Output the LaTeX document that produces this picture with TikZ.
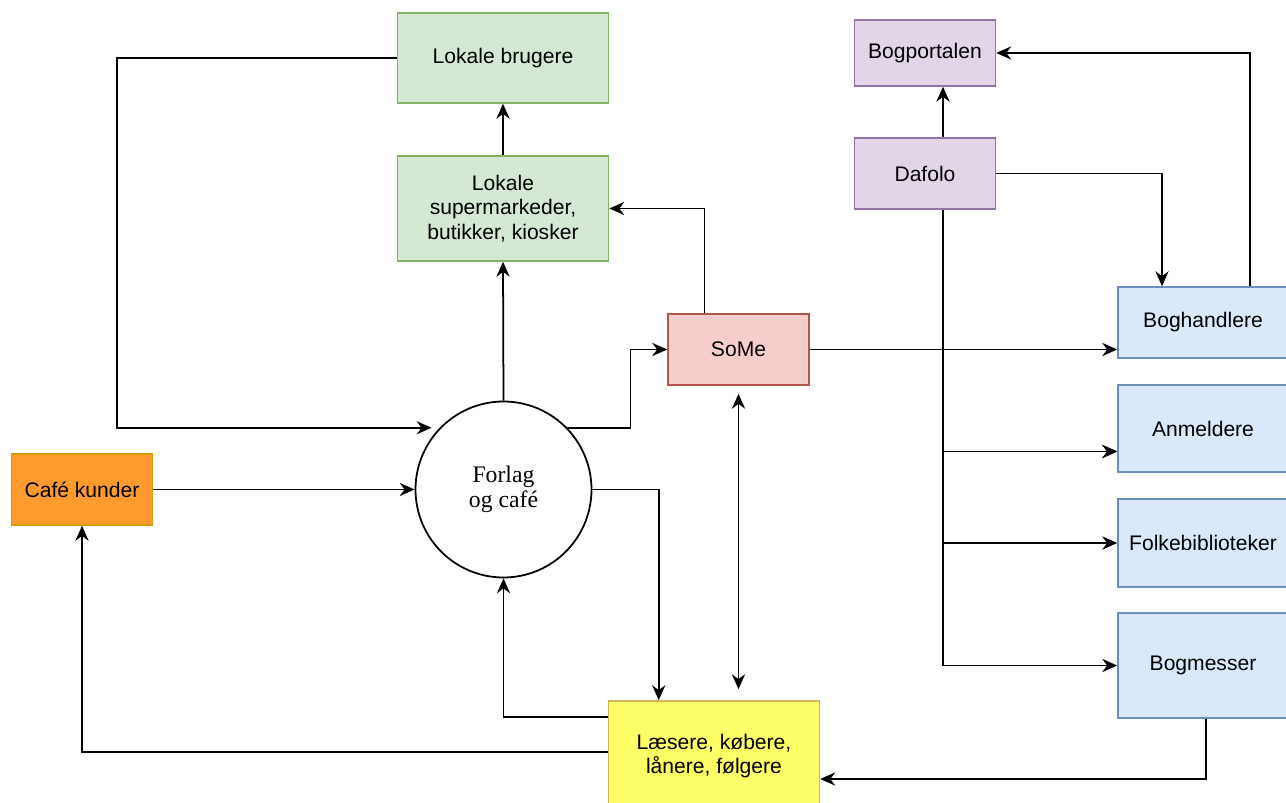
\documentclass[tikz,border=0pt]{standalone}
\usepackage{fontspec}
\setmainfont{Liberation Sans}
\newfontfamily\serifface{Liberation Serif}
\usetikzlibrary{positioning,arrows.meta,calc}
\definecolor{grnlt}{HTML}{D5E8D4}
\definecolor{grndk}{HTML}{82B366}
\definecolor{purlt}{HTML}{E1D5E7}
\definecolor{purdk}{HTML}{9673A6}
\definecolor{blult}{HTML}{DAE8FC}
\definecolor{bludk}{HTML}{6C8EBF}
\definecolor{redlt}{HTML}{F8CECC}
\definecolor{reddk}{HTML}{B85450}
\definecolor{orglt}{HTML}{FF9A2E}
\definecolor{orgdk}{HTML}{D79B00}
\definecolor{yellt}{HTML}{FFFF66}
\definecolor{yeldk}{HTML}{D6B656}
\tikzset{
  tip/.tip={Stealth[length=8.5pt,width=7.5pt]},
  flow/.style={-tip, line width=1pt, color=black},
  twoway/.style={tip-tip, line width=1pt, color=black},
  blk/.style={draw=#1dk, fill=#1lt, line width=0.9pt, align=center,
    font=\fontsize{12}{14}\selectfont, inner sep=2pt, text=black},
  blk/.default=grn,
  hub/.style={circle, draw=black, fill=white, line width=1pt, minimum size=3.52cm,
    align=center, font=\serifface\fontsize{13.5}{14.5}\selectfont, inner sep=0pt},
}

\begin{document}
\begin{tikzpicture}[x=0.02cm,y=-0.02cm]
  \useasboundingbox (0,0) rectangle (1286,803);
  % left and middle
  \node[blk=grn, minimum width=4.22cm, minimum height=1.8cm] (lb) at (503,58) {Lokale brugere};
  \node[blk=grn, minimum width=4.22cm, minimum height=2.1cm] (sm) at (503,208.5) {Lokale\\supermarkeder,\\butikker, kiosker};
  \node[hub] (forlag) at (503.5,489.5) {Forlag\\og café};
  \node[blk=org, minimum width=2.82cm, minimum height=1.42cm] (cafe) at (82,489.5) {Café kunder};
  \node[blk=red, minimum width=2.82cm, minimum height=1.42cm] (some) at (738.5,349.5) {SoMe};
  \node[blk=yel, minimum width=4.22cm, minimum height=2.2cm] (laes) at (714,756) {Læsere, købere,\\lånere, følgere};
  % right side
  \node[blk=pur, minimum width=2.82cm, minimum height=1.32cm] (bp) at (925,53) {Bogportalen};
  \node[blk=pur, minimum width=2.82cm, minimum height=1.42cm] (daf) at (925,173.5) {Dafolo};
  \node[blk=blu, minimum width=3.4cm, minimum height=1.42cm] (bh) at (1203,322.5) {Boghandlere};
  \node[blk=blu, minimum width=3.4cm, minimum height=1.74cm] (anm) at (1203,428.5) {Anmeldere};
  \node[blk=blu, minimum width=3.4cm, minimum height=1.76cm] (fb) at (1203,543) {Folkebiblioteker};
  \node[blk=blu, minimum width=3.4cm, minimum height=2.1cm] (bm) at (1203,665.5) {Bogmesser};

  \draw[flow, shorten >=0.16cm] (lb.west) -- ++(-280,0) |- (forlag.136);
  \draw[flow] (sm.north) -- (lb.south);
  \draw[flow] (forlag.north) -- (sm.south);
  \draw[flow] ($(some.north)+(-34,0)$) |- (sm.east);
  \draw[flow] (forlag.44) -- ++(63,0) |- (some.west);
  \draw[flow] (cafe.east) -- (forlag.west);
  \draw[flow] (forlag.east) -| ($(laes.north west)+(51,0)$);
  \draw[flow] ($(laes.north west)+(0,17)$) -| (forlag.south);
  \draw[flow] ($(laes.north west)+(0,52)$) -| (cafe.south);
  \draw[twoway, shorten <=0.16cm, shorten >=0.22cm] (some.south) -- (some.south |- laes.north);
  \draw[flow] ($(bm.south)+(3,0)$) |- ($(laes.east)+(0,23)$);

  \draw[flow] (some.east) -- (some.east -| bh.west);
  \draw[flow] (some.east) -- ($(some.east -| daf.south)+(18,0)$) |- ($(anm.west)+(0,23)$);
  \draw[flow] ($(daf.south)+(18,0)$) |- ($(anm.west)+(0,23)$);
  \draw[flow] ($(daf.south)+(18,0)$) |- (fb.west);
  \draw[flow] ($(daf.south)+(18,0)$) |- (bm.west);
  \draw[flow] ($(daf.north)+(18,0)$) -- ($(bp.south)+(18,0)$);
  \draw[flow] (daf.east) -| ($(bh.north)+(-41,0)$);
  \draw[flow] ($(bh.north)+(47,0)$) |- (bp.east);
\end{tikzpicture}
\end{document}
